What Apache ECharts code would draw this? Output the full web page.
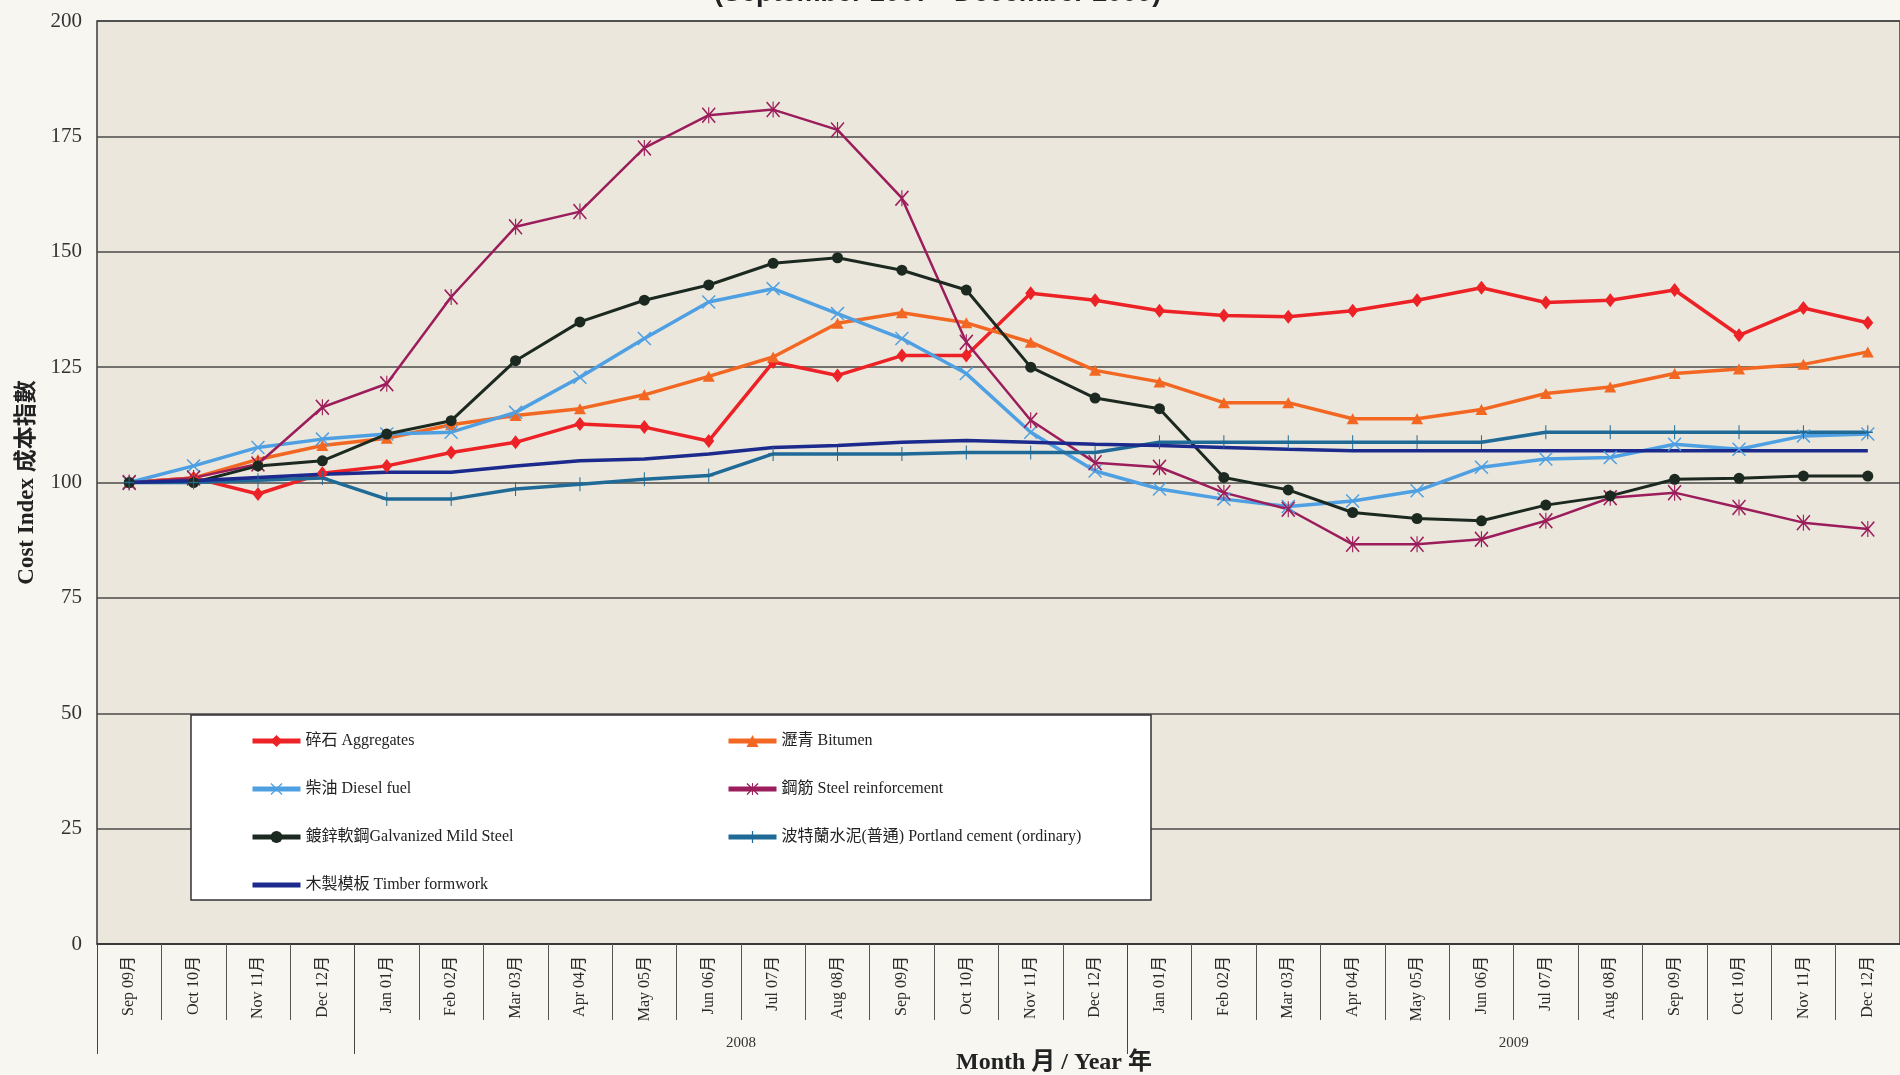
<!DOCTYPE html>
<html>
<head>
<meta charset="utf-8">
<script src="https://cdn.jsdelivr.net/npm/echarts@6/dist/echarts.min.js"></script>
<style>
  html, body { margin: 0; padding: 0; background: #F7F6F1; }
  #main { width: 1900px; height: 1075px; }
</style>
</head>
<body>
<div id="main"></div>
<script>
// months Sep 2007 - Dec 2009
var periods = ['2007-09','2007-10','2007-11','2007-12',
  '2008-01','2008-02','2008-03','2008-04','2008-05','2008-06','2008-07','2008-08','2008-09','2008-10','2008-11','2008-12',
  '2009-01','2009-02','2009-03','2009-04','2009-05','2009-06','2009-07','2009-08','2009-09','2009-10','2009-11','2009-12'];
var monthLabels = ['Sep 09月','Oct 10月','Nov 11月','Dec 12月',
  'Jan 01月','Feb 02月','Mar 03月','Apr 04月','May 05月','Jun 06月','Jul 07月','Aug 08月','Sep 09月','Oct 10月','Nov 11月','Dec 12月',
  'Jan 01月','Feb 02月','Mar 03月','Apr 04月','May 05月','Jun 06月','Jul 07月','Aug 08月','Sep 09月','Oct 10月','Nov 11月','Dec 12月'];
var yearBreaks = [-0.5, 3.5, 15.5];
var yearCenters = [9.5, 21.5];
var yearLabels = ['2008', '2009'];

var aggregates = [100,101,97.5,102,103.6,106.5,108.7,112.7,112,109,126.1,123.2,127.5,127.5,141,139.5,137.2,136.2,135.9,137.2,139.5,142.2,139,139.5,141.7,131.9,137.8,134.6];
var bitumen = [100,101,105,108,109.6,112.5,114.5,116,119,123,127.2,134.5,136.8,134.6,130.4,124.3,121.8,117.3,117.3,113.8,113.8,115.8,119.3,120.7,123.6,124.6,125.6,128.3];
var diesel = [100,103.6,107.6,109.4,110.5,110.9,115.2,122.8,131.2,139.1,142,136.6,131.2,123.6,110.9,102.5,98.6,96.4,94.8,96,98.2,103.3,105.1,105.4,108.3,107.2,110.1,110.5];
var steel = [100,101,104,116.3,121.4,140.2,155.4,158.7,172.5,179.6,180.8,176.4,161.6,130.4,113.5,104.3,103.3,97.8,94.2,86.6,86.6,87.7,91.7,96.7,97.8,94.6,91.3,89.9];
var galvanized = [100,100,103.6,104.7,110.5,113.4,126.4,134.8,139.5,142.8,147.5,148.7,146,141.7,125,118.3,116,101.1,98.4,93.5,92.2,91.7,95.1,97.1,100.7,100.9,101.4,101.4];
var portland = [100,100,100.5,101,96.4,96.4,98.6,99.6,100.7,101.5,106.2,106.2,106.2,106.5,106.5,106.5,108.7,108.7,108.7,108.7,108.7,108.7,110.9,110.9,110.9,110.9,110.9,110.9];
var timber = [100,100.4,101.1,101.8,102.2,102.2,103.6,104.7,105.1,106.2,107.6,108,108.7,109.1,108.7,108.3,108,107.6,107.2,106.9,106.9,106.9,106.9,106.9,106.9,106.9,106.9,106.9];

var serif = '"Liberation Serif", "Noto Sans CJK TC", serif';

// marker shapes
var xMark = 'path://M0,1.5 L1.5,0 L10,8.5 L18.5,0 L20,1.5 L11.5,10 L20,18.5 L18.5,20 L10,11.5 L1.5,20 L0,18.5 L8.5,10 Z';
var starMark = 'path://M0,1.5 L1.5,0 L10,8.5 L18.5,0 L20,1.5 L11.5,10 L20,18.5 L18.5,20 L10,11.5 L1.5,20 L0,18.5 L8.5,10 Z M9.2,0 L10.8,0 L10.8,20 L9.2,20 Z';
var plusMark = 'path://M9,0 L11,0 L11,9 L20,9 L20,11 L11,11 L11,20 L9,20 L9,11 L0,11 L0,9 L9,9 Z';

function line(name, data, color, width, symbol, size) {
  return {
    name: name,
    type: 'line',
    data: data,
    symbol: symbol,
    symbolSize: size,
    lineStyle: { color: color, width: width },
    itemStyle: { color: color },
    emphasis: { disabled: true }
  };
}

var timberLine = line('木製模板 Timber formwork', timber, '#1B2A8C', 3.5, 'circle', 0);
timberLine.showSymbol = false;
timberLine.itemStyle = { color: 'rgba(0,0,0,0)' };

var legendText = { fontFamily: serif, fontSize: 16, color: '#222' };

var myChart = echarts.init(document.getElementById('main'));
myChart.setOption({
  animation: false,
  backgroundColor: '#F7F6F1',
  title: {
    text: '(September 2007 - December 2009)',
    left: 709,
    top: -25,
    textStyle: { fontFamily: '"Liberation Sans", Arial, sans-serif', fontWeight: 'bold', fontSize: 27, color: '#222' }
  },
  grid: {
    left: 97, right: -15, top: 21, bottom: 131,
    show: true,
    backgroundColor: '#EBE7DC',
    borderColor: '#3a3a3a',
    borderWidth: 1.5
  },
  legend: [
    {
      data: ['碎石 Aggregates', '柴油 Diesel fuel', '鍍鋅軟鋼Galvanized Mild Steel', '木製模板 Timber formwork'],
      orient: 'vertical', left: 245, top: 728,
      itemWidth: 48, itemHeight: 15, itemGap: 32, z: 5,
      lineStyle: { width: 5 },
      textStyle: legendText
    },
    {
      data: ['瀝青 Bitumen', '鋼筋 Steel reinforcement', '波特蘭水泥(普通) Portland cement (ordinary)'],
      orient: 'vertical', left: 721, top: 728,
      itemWidth: 48, itemHeight: 15, itemGap: 32, z: 5,
      lineStyle: { width: 5 },
      textStyle: legendText
    }
  ],
  graphic: [
    {
      type: 'rect', z: 3,
      shape: { x: 191, y: 715, width: 960, height: 185 },
      style: { fill: '#FFFFFF', stroke: '#333', lineWidth: 1.5 }
    },
    {
      type: 'text', z: 3,
      x: 1054, y: 1063,
      style: { text: 'Month 月 / Year 年', font: 'bold 24px ' + serif, fill: '#222', align: 'center', verticalAlign: 'middle' }
    }
  ],
  xAxis: [
    {
      type: 'category',
      data: periods,
      boundaryGap: true,
      axisLine: { lineStyle: { color: '#333', width: 1.5 } },
      axisTick: { show: true, interval: 0, length: 76, lineStyle: { color: '#555' } },
      axisLabel: {
        interval: 0, rotate: 90, margin: 12,
        formatter: function (v, i) { return monthLabels[i]; },
        fontFamily: serif, fontSize: 16, color: '#2a2a2a'
      },
      splitLine: { show: false }
    },
    {
      type: 'value',
      position: 'bottom',
      min: -0.5, max: 27.5,
      axisLine: { show: false },
      splitLine: { show: false },
      axisTick: { show: true, customValues: yearBreaks, length: 110, lineStyle: { color: '#444' } },
      axisLabel: {
        customValues: yearCenters, margin: 92,
        formatter: function (v) { return yearLabels[yearCenters.indexOf(v)]; },
        fontFamily: serif, fontSize: 15, color: '#333'
      }
    }
  ],
  yAxis: {
    type: 'value',
    min: 0, max: 200, interval: 25,
    name: 'Cost Index 成本指數',
    nameLocation: 'middle',
    nameGap: 58,
    nameRotate: 90,
    nameTextStyle: { fontFamily: serif, fontWeight: 'bold', fontSize: 23, color: '#222' },
    axisLine: { show: false },
    axisTick: { show: false },
    axisLabel: { fontFamily: serif, fontSize: 21, color: '#333', margin: 15 },
    splitLine: { lineStyle: { color: '#4a4a4a', width: 1.5 } }
  },
  series: [
    line('碎石 Aggregates', aggregates, '#EC2227', 3.5, 'diamond', [11, 14]),
    line('瀝青 Bitumen', bitumen, '#F26722', 3.5, 'triangle', [12, 11]),
    line('柴油 Diesel fuel', diesel, '#4FA0E2', 3.5, xMark, 14),
    line('鋼筋 Steel reinforcement', steel, '#9C1D5B', 2.5, starMark, [14, 16]),
    line('鍍鋅軟鋼Galvanized Mild Steel', galvanized, '#1C2920', 3, 'circle', 11),
    line('波特蘭水泥(普通) Portland cement (ordinary)', portland, '#1F6A96', 3.5, plusMark, [10, 14]),
    timberLine
  ]
});
</script>
</body>
</html>
